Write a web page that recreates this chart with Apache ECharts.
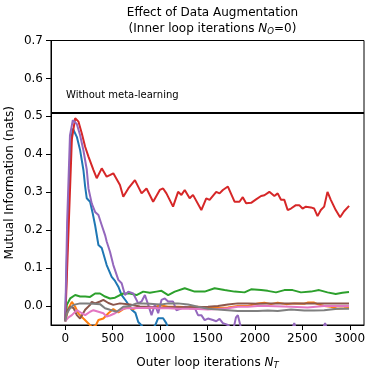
<!DOCTYPE html>
<html>
<head>
<meta charset="utf-8">
<script src="https://cdn.jsdelivr.net/npm/echarts@6/dist/echarts.min.js"></script>
<style>
  html, body { margin: 0; padding: 0; background: #fff; }
  #chart { width: 368px; height: 370px; }
</style>
</head>
<body>
<div id="chart"></div>
<script>
// values, [iteration, nats]
var blue = [[0,-0.04],[25,0.2],[55,0.42],[80,0.468],[122,0.446],[157,0.411],[192,0.358],[210,0.315],[227,0.284],[262,0.275],[290,0.244],[315,0.213],[350,0.161],[385,0.153],[437,0.108],[490,0.077],[525,0.066],[560,0.051],[595,0.029],[645,0.012],[700,-0.01],[740,-0.018],[770,-0.042],[800,-0.05],[850,-0.065],[920,-0.06],[950,-0.05],[980,-0.032],[1032,-0.032],[1065,-0.045],[1120,-0.08]];
var orange = [[0,-0.04],[35,-0.006],[70,0.011],[105,-0.002],[140,-0.02],[192,-0.033],[245,-0.046],[280,-0.055],[320,-0.052],[350,-0.037],[402,-0.033],[455,-0.019],[507,-0.008],[560,-0.017],[612,-0.008],[665,-0.004],[717,-0.008],[770,-0.002],[840,-0.005],[927,-0.005],[997,0.002],[1085,-0.002],[1190,-0.002],[1295,-0.003],[1400,-0.002],[1505,-0.004],[1610,-0.005],[1715,-0.004],[1820,0.0],[1925,0.0],[2030,0.007],[2100,0.009],[2170,0.005],[2240,0.009],[2327,0.005],[2415,0.007],[2520,0.006],[2555,0.009],[2625,0.009],[2660,0.005],[2730,0.0],[2800,-0.002],[2870,-0.007],[2940,-0.006],[2992,-0.005]];
var green = [[0,-0.04],[17,0.003],[52,0.02],[105,0.029],[157,0.025],[210,0.025],[262,0.024],[315,0.033],[367,0.033],[420,0.025],[472,0.02],[525,0.022],[577,0.029],[612,0.033],[682,0.033],[752,0.029],[822,0.038],[892,0.035],[962,0.038],[1015,0.04],[1085,0.029],[1155,0.038],[1260,0.047],[1365,0.038],[1470,0.038],[1575,0.047],[1680,0.042],[1785,0.038],[1890,0.036],[1960,0.044],[2065,0.042],[2135,0.04],[2222,0.036],[2310,0.042],[2397,0.042],[2485,0.036],[2590,0.038],[2677,0.042],[2765,0.036],[2852,0.032],[2922,0.035],[2992,0.037]];
var red = [[0,-0.04],[35,0.2],[70,0.44],[105,0.495],[140,0.486],[175,0.455],[210,0.42],[245,0.394],[297,0.359],[332,0.337],[385,0.363],[437,0.341],[470,0.345],[507,0.35],[577,0.319],[612,0.288],[665,0.31],[735,0.332],[805,0.297],[857,0.31],[927,0.275],[997,0.306],[1032,0.31],[1067,0.297],[1137,0.262],[1190,0.301],[1225,0.293],[1260,0.306],[1312,0.284],[1347,0.293],[1435,0.253],[1487,0.284],[1522,0.28],[1592,0.301],[1627,0.297],[1662,0.306],[1715,0.315],[1785,0.275],[1837,0.275],[1872,0.287],[1907,0.271],[1960,0.272],[2012,0.281],[2065,0.29],[2100,0.292],[2152,0.301],[2205,0.29],[2240,0.297],[2275,0.28],[2310,0.28],[2345,0.253],[2380,0.257],[2432,0.266],[2467,0.266],[2502,0.257],[2537,0.262],[2590,0.26],[2625,0.257],[2660,0.237],[2695,0.253],[2730,0.262],[2765,0.301],[2800,0.28],[2852,0.253],[2898,0.234],[2940,0.25],[2993,0.264]];
var purple = [[0,-0.04],[20,0.22],[50,0.45],[80,0.49],[122,0.48],[157,0.45],[192,0.41],[227,0.36],[245,0.31],[280,0.27],[315,0.248],[350,0.24],[385,0.213],[420,0.187],[437,0.17],[472,0.143],[507,0.108],[560,0.069],[595,0.06],[630,0.029],[665,0.038],[717,0.033],[770,0.007],[805,0.012],[840,0.029],[875,0.003],[910,-0.024],[945,0.004],[980,-0.019],[1015,0.016],[1050,0.02],[1085,0.012],[1137,0.012],[1172,-0.011],[1207,-0.008],[1260,-0.002],[1312,-0.006],[1365,-0.005],[1400,-0.024],[1435,-0.024],[1470,-0.037],[1505,-0.033],[1557,-0.037],[1592,-0.04],[1627,-0.034],[1662,-0.045],[1715,-0.05],[1770,-0.065],[1800,-0.03],[1820,-0.024],[1855,-0.06],[1950,-0.07],[2100,-0.075],[2380,-0.07],[2415,-0.045],[2440,-0.07],[2700,-0.07],[2740,-0.045],[2770,-0.07],[3000,-0.075]];
var brown = [[0,-0.04],[17,-0.015],[52,-0.002],[87,-0.005],[122,-0.024],[157,-0.033],[210,-0.01],[262,0.003],[280,0.011],[315,0.007],[367,0.012],[402,0.016],[455,0.008],[507,0.003],[577,0.007],[682,0.004],[787,-0.001],[892,-0.002],[997,-0.005],[1085,-0.003],[1190,-0.003],[1295,-0.003],[1400,-0.003],[1505,-0.002],[1610,0.0],[1715,0.004],[1820,0.007],[1925,0.007],[2030,0.006],[2135,0.007],[2240,0.007],[2380,0.007],[2520,0.007],[2660,0.007],[2800,0.007],[2992,0.007]];
var pink = [[0,-0.04],[35,-0.03],[70,-0.024],[122,-0.011],[175,-0.019],[210,-0.024],[262,-0.015],[297,-0.011],[350,-0.015],[402,-0.019],[437,-0.028],[472,-0.025],[525,-0.019],[577,-0.011],[630,-0.006],[700,-0.006],[770,-0.005],[840,-0.005],[910,-0.004],[980,-0.006],[1085,-0.006],[1190,-0.007],[1295,-0.007],[1400,-0.008],[1505,-0.009],[1610,-0.008],[1715,-0.006],[1820,-0.002],[1925,-0.002],[2030,0.0],[2135,0.0],[2380,-0.002],[2555,-0.004],[2730,0.0],[2835,0.0],[2992,0.0]];
var gray = [[0,-0.04],[17,-0.02],[52,-0.005],[87,0.003],[157,0.007],[227,0.007],[297,0.006],[367,0.005],[420,-0.006],[472,-0.01],[542,-0.015],[612,-0.002],[682,0.0],[752,0.007],[822,0.007],[892,0.006],[962,0.005],[1015,0.004],[1085,0.007],[1190,0.007],[1295,0.004],[1400,-0.002],[1505,-0.007],[1610,-0.009],[1715,-0.011],[1820,-0.013],[1925,-0.013],[2030,-0.013],[2135,-0.012],[2240,-0.013],[2380,-0.009],[2520,-0.012],[2625,-0.012],[2730,-0.011],[2870,-0.007],[2992,-0.007]];

var baseline = 0.51; // "Without meta-learning"
var xTicks = [0, 500, 1000, 1500, 2000, 2500, 3000];
var yTicks = [0, 0.1, 0.2, 0.3, 0.4, 0.5, 0.6, 0.7];

var font = "DejaVu Sans";
var colors = ["#1f77b4", "#ff7f0e", "#2ca02c", "#d62728", "#9467bd", "#8c564b", "#e377c2", "#7f7f7f"];
var allSeries = [blue, orange, green, red, purple, brown, pink, gray];

var chart = echarts.init(document.getElementById("chart"));

var series = allSeries.map(function (d, i) {
  return {
    type: "line",
    data: d,
    symbol: "none",
    clip: true,
    lineStyle: { width: 2, color: colors[i] },
    itemStyle: { color: colors[i] },
    z: 2 + i,
  };
});
// horizontal reference line
series.push({
  type: "line",
  data: [],
  symbol: "none",
  markLine: {
    silent: true,
    symbol: "none",
    lineStyle: { color: "#000", width: 2, type: "solid" },
    label: { show: false },
    data: [{ yAxis: baseline }],
  },
  z: 20,
});

var richSub = {
  a: { fontFamily: font, fontSize: 12, fontWeight: "normal", color: "#000", lineHeight: 16 },
  i: { fontFamily: font, fontSize: 12, fontWeight: "normal", fontStyle: "italic", color: "#000", lineHeight: 16 },
  s: { fontFamily: font, fontSize: 8.5, fontWeight: "normal", fontStyle: "italic", color: "#000", lineHeight: 16, padding: [6, 0, 0, 0] },
};

var option = {
  animation: false,
  backgroundColor: "#fff",
  textStyle: { fontFamily: font },
  title: {
    left: 207.5,
    top: 0,
    textAlign: "center",
    text: "{a|Effect of Data Augmentation}\n{a|(Inner loop iterations }{i|N}{s|O}{a|=0)}",
    textStyle: { fontWeight: "normal", rich: richSub },
  },
  graphic: [
    {
      type: "text",
      left: 66,
      top: 90,
      style: { text: "Without meta-learning", fontFamily: font, fontSize: 10, fill: "#000" },
    },
  ],
  grid: {
    left: 51, right: 4, top: 40.5, bottom: 45,
    outerBoundsMode: "none",
    containLabel: false,
    show: true, borderColor: "#000", borderWidth: 1,
  },
  xAxis: {
    type: "value",
    min: -150,
    max: 3150,
    name: "{a|Outer loop iterations }{i|N}{s|T}",
    nameLocation: "middle",
    nameGap: 30,
    nameMoveOverlap: false,
    nameTextStyle: { rich: richSub },
    axisLine: { show: true, onZero: false, lineStyle: { color: "#000", width: 1 } },
    axisTick: { show: true, length: 5, customValues: xTicks, lineStyle: { color: "#000" } },
    axisLabel: {
      customValues: xTicks, color: "#000", fontFamily: font, fontSize: 12, margin: 8,
      formatter: function (v) { return String(v); },
    },
    splitLine: { show: false },
  },
  yAxis: {
    type: "value",
    min: -0.05,
    max: 0.7,
    name: "Mutual Information (nats)",
    nameLocation: "middle",
    nameGap: 35,
    nameMoveOverlap: false,
    nameTextStyle: { fontFamily: font, fontSize: 12, color: "#000" },
    axisLine: { show: true, onZero: false, lineStyle: { color: "#000", width: 1 } },
    axisTick: { show: true, length: 5, customValues: yTicks, lineStyle: { color: "#000" } },
    axisLabel: {
      customValues: yTicks,
      color: "#000",
      fontFamily: font,
      fontSize: 12,
      margin: 8,
      formatter: function (v) { return v.toFixed(1); },
    },
    splitLine: { show: false },
  },
  series: series,
};

chart.setOption(option);
</script>
</body>
</html>
